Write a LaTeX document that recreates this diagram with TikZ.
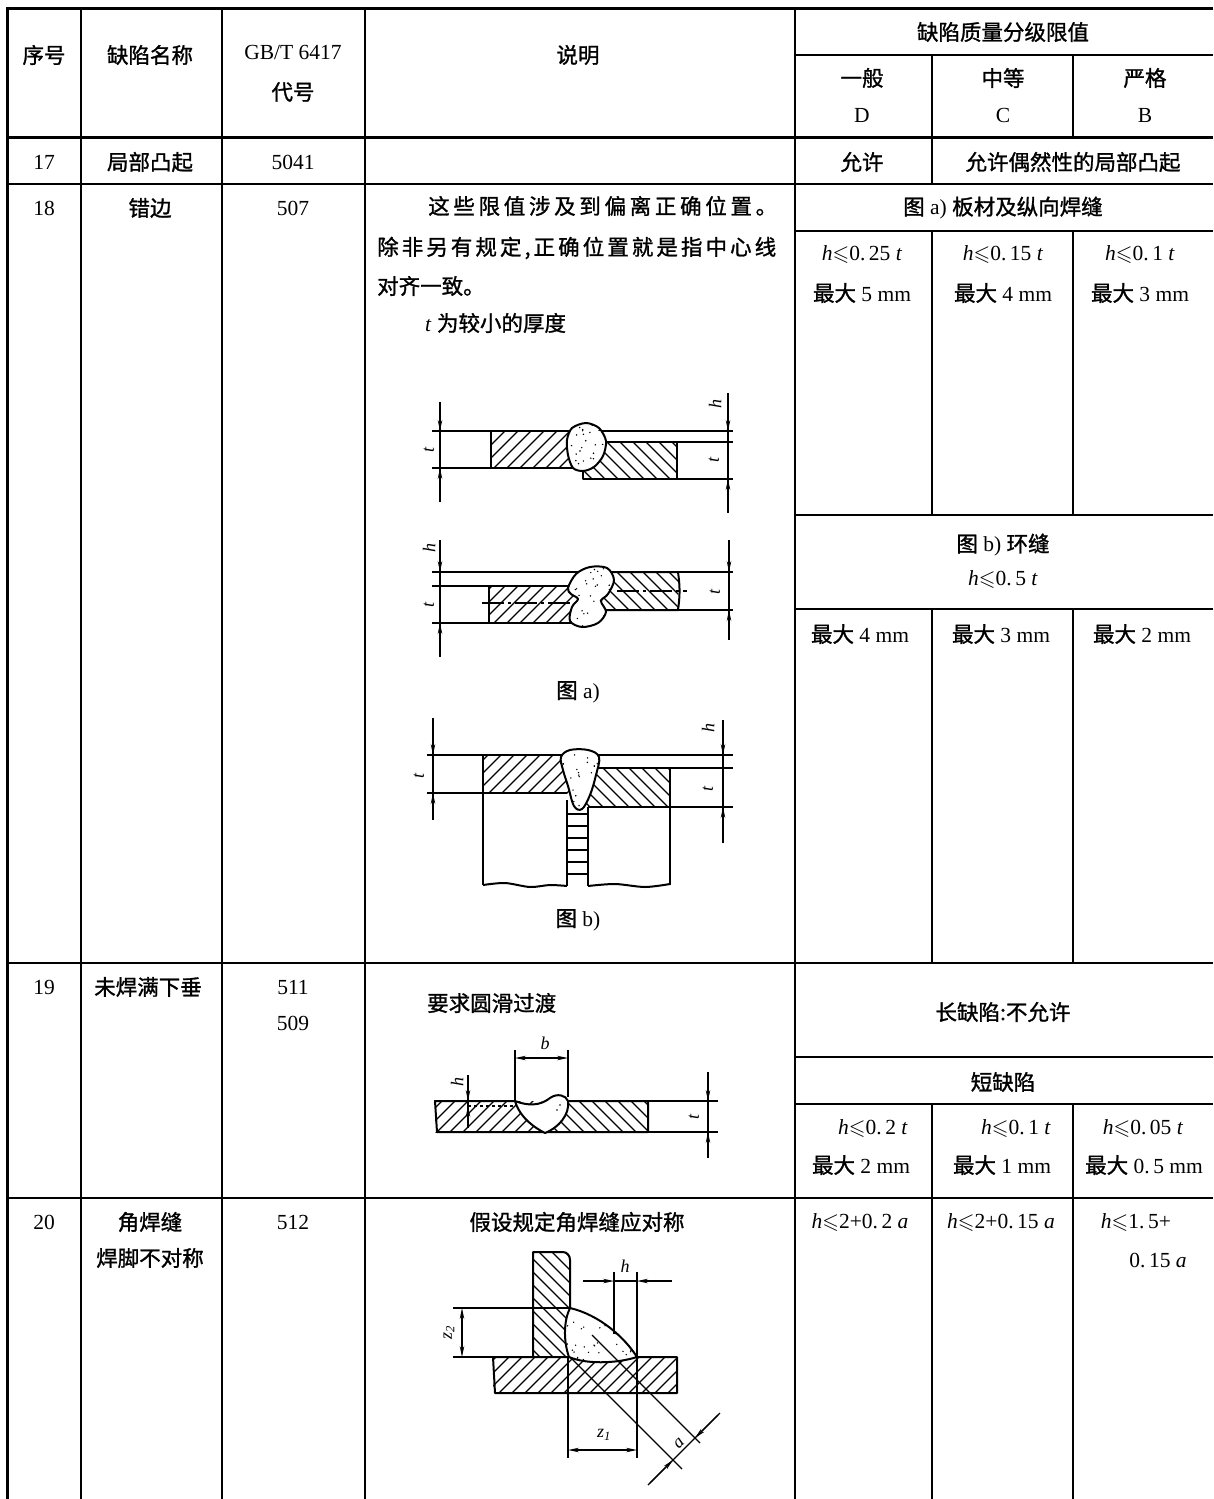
\documentclass[tikz,border=0pt]{standalone}
\usepackage{amssymb}
\usepackage{fontspec}
\setmainfont{Liberation Serif}
\newfontfamily\cjk[RawFeature={embolden=1.2}]{Noto Sans CJK SC}
\usetikzlibrary{arrows.meta}
\newcommand{\zh}[1]{{\cjk #1}}
\newcommand{\hv}{\textit{h}}
\newcommand{\tv}{\textit{t}}
\newcommand{\av}{\textit{a}}
\newcommand{\lsym}{$\leqslant$}
\newcommand{\stipple}[5]{\foreach \i in {1,...,#5}{\pgfmathsetmacro\rx{#1+#3*rnd}\pgfmathsetmacro\ry{#2+#4*rnd}\fill (\rx,\ry) circle (0.8pt);}}
\begin{document}
\begin{tikzpicture}[x=1pt,y=-1pt,
 txt/.style={font=\fontsize{21.5}{26}\selectfont, inner sep=0pt},
 grid/.style={line width=1.8pt},
 frame/.style={line width=3pt},
 plate/.style={line width=2pt, line join=round},
 hatch/.style={line width=1.2pt},
 thin/.style={line width=1.1pt},
 arr/.style={-{Stealth[length=11pt,width=4.5pt]}, line width=1.1pt},
 dbl/.style={{Stealth[length=11pt,width=4.5pt]}-{Stealth[length=11pt,width=4.5pt]}, line width=1.1pt},
 lab/.style={font=\fontsize{18}{20}\selectfont\itshape, inner sep=0pt},
]
\pgfmathsetseed{7}
\useasboundingbox (0,0) rectangle (1213,1499);
\fill[white] (0,0) rectangle (1213,1499);
% ---------- table grid ----------
\draw[frame] (7,8) -- (1213,8);
\draw[frame] (7,137) -- (1213,137);
\draw[frame] (7,6.5) -- (7,1499);
\draw[grid] (795,55) -- (1213,55);
\draw[grid] (7,184) -- (1213,184);
\draw[grid] (795,231) -- (1213,231);
\draw[grid] (795,515) -- (1213,515);
\draw[grid] (795,609) -- (1213,609);
\draw[grid] (7,963) -- (1213,963);
\draw[grid] (795,1057) -- (1213,1057);
\draw[grid] (795,1104) -- (1213,1104);
\draw[grid] (7,1198) -- (1213,1198);
\foreach \x in {81,222,365,795} \draw[grid] (\x,8) -- (\x,1499);
\draw[grid] (932,55) -- (932,184);
\draw[grid] (932,231) -- (932,515);
\draw[grid] (932,609) -- (932,963);
\draw[grid] (932,1104) -- (932,1499);
\draw[grid] (1073,55) -- (1073,137);
\draw[grid] (1073,231) -- (1073,515);
\draw[grid] (1073,609) -- (1073,963);
\draw[grid] (1073,1104) -- (1073,1499);
% ---------- header ----------
\node[txt] (h1) at (44,55) {\zh{序号}};
\node[txt] (h2) at (150,55) {\zh{缺陷名称}};
\node[txt] (h3) at (293,52) {GB/T 6417};
\node[txt] (h3b) at (293,92) {\zh{代号}};
\node[txt] (h4) at (578,55) {\zh{说明}};
\node[txt] (h5) at (1003,32) {\zh{缺陷质量分级限值}};
\node[txt] (h6) at (862,78) {\zh{一般}};
\node[txt] (h6b) at (862,115) {D};
\node[txt] (h7) at (1003,78) {\zh{中等}};
\node[txt] (h7b) at (1003,115) {C};
\node[txt] (h8) at (1145,78) {\zh{严格}};
\node[txt] (h8b) at (1145,115) {B};
% ---------- row 17 ----------
\node[txt] (r17a) at (44,162) {17};
\node[txt] (r17b) at (150,162) {\zh{局部凸起}};
\node[txt] (r17c) at (293,162) {5041};
\node[txt] (r17d) at (862,162) {\zh{允许}};
\node[txt] (r17e) at (1073,162) {\zh{允许偶然性的局部凸起}};
% ---------- row 18 ----------
\node[txt] (r18a) at (44,208) {18};
\node[txt] (r18b) at (150,208) {\zh{错边}};
\node[txt] (r18c) at (293,208) {507};
\node[txt,anchor=west] (d1) at (428,206) {\makebox[349pt][s]{\cjk 这\hfill 些\hfill 限\hfill 值\hfill 涉\hfill 及\hfill 到\hfill 偏\hfill 离\hfill 正\hfill 确\hfill 位\hfill 置\hfill 。}};
\node[txt,anchor=west] (d2) at (377,248) {\makebox[399pt][s]{\cjk 除\hfill 非\hfill 另\hfill 有\hfill 规\hfill 定\hfill ,\hfill 正\hfill 确\hfill 位\hfill 置\hfill 就\hfill 是\hfill 指\hfill 中\hfill 心\hfill 线}};
\node[txt,anchor=west] (d3) at (377,286) {\zh{对齐一致。}};
\node[txt,anchor=west] (d4) at (425,323) {\tv\ \zh{为较小的厚度}};
\node[txt] (fa) at (1003,208) {\zh{图} a) \zh{板材及纵向焊缝}};
\node[txt] (l1) at (862,255) {\hv\lsym0.\,25 \tv};
\node[txt] (l2) at (862,293) {\zh{最大} 5 mm};
\node[txt] (l3) at (1003,255) {\hv\lsym0.\,15 \tv};
\node[txt] (l4) at (1003,293) {\zh{最大} 4 mm};
\node[txt] (l5) at (1140,255) {\hv\lsym0.\,1 \tv};
\node[txt] (l6) at (1140,293) {\zh{最大} 3 mm};
\node[txt] (fb) at (1003,545) {\zh{图} b) \zh{环缝}};
\node[txt] (fb2) at (1003,580) {\hv\lsym0.\,5 \tv};
\node[txt] (l7) at (860,634) {\zh{最大} 4 mm};
\node[txt] (l8) at (1001,634) {\zh{最大} 3 mm};
\node[txt] (l9) at (1142,634) {\zh{最大} 2 mm};
\node[txt] (capa) at (578,692) {\zh{图} a)};
\node[txt] (capb) at (578,920) {\zh{图} b)};
% ---------- row 19 ----------
\node[txt] (r19a) at (44,987) {19};
\node[txt] (r19b) at (148,987) {\zh{未焊满下垂}};
\node[txt] (r19c) at (293,987) {511};
\node[txt] (r19d) at (293,1023) {509};
\node[txt,anchor=west] (r19e) at (427,1003) {\zh{要求圆滑过渡}};
\node[txt] (r19f) at (1003,1012) {\zh{长缺陷:不允许}};
\node[txt] (r19g) at (1003,1082) {\zh{短缺陷}};
\node[txt] (m1) at (873,1128) {\hv\lsym0.\,2 \tv};
\node[txt] (m2) at (861,1165) {\zh{最大} 2 mm};
\node[txt] (m3) at (1016,1128) {\hv\lsym0.\,1 \tv};
\node[txt] (m4) at (1002,1165) {\zh{最大} 1 mm};
\node[txt] (m5) at (1143,1128) {\hv\lsym0.\,05 \tv};
\node[txt] (m6) at (1144,1165) {\zh{最大} 0.\,5 mm};
% ---------- row 20 ----------
\node[txt] (r20a) at (44,1222) {20};
\node[txt] (r20b) at (150,1222) {\zh{角焊缝}};
\node[txt] (r20c) at (150,1258) {\zh{焊脚不对称}};
\node[txt] (r20d) at (293,1222) {512};
\node[txt] (r20e) at (577,1222) {\zh{假设规定角焊缝应对称}};
\node[txt] (n1) at (860,1222) {\hv\lsym2+0.\,2 \av};
\node[txt] (n2) at (1001,1222) {\hv\lsym2+0.\,15 \av};
\node[txt] (n3) at (1136,1222) {\hv\lsym1.\,5+};
\node[txt] (n4) at (1158,1260) {0.\,15 \av};

% ================= drawing a1 =================
\draw[thin] (432,431) -- (733,431);
\draw[thin] (432,468) -- (491,468);
\draw[thin] (677,442) -- (733,442);
\draw[thin] (677,479) -- (733,479);
\begin{scope}\clip (491,431) rectangle (580,468);
\foreach \c in {910,923,...,1060} \draw[hatch] (\c-425,425) -- (\c-475,475);
\end{scope}
\draw[plate] (580,431) -- (491,431) -- (491,468) -- (580,468);
\begin{scope}\clip (583,442) rectangle (677,479);
\foreach \c in {100,113,...,240} \draw[hatch] (\c+436,436) -- (\c+485,485);
\end{scope}
\draw[plate] (583,442) -- (677,442) -- (677,479) -- (583,479) -- cycle;
\def\wA{plot[smooth cycle] coordinates {(572,428) (586,423) (599,428) (606,441) (603,456) (594,467) (583,471) (573,468) (568,455) (567,440)}}
\fill[white] \wA;
\begin{scope}\clip \wA; \stipple{565}{422}{42}{50}{35}\end{scope}
\draw[plate] \wA;
\draw[thin] (440,402) -- (440,502);
\draw[arr] (440,405) -- (440,431);
\draw[arr] (440,499) -- (440,468);
\draw[thin] (728,393) -- (728,513);
\draw[arr] (728,400) -- (728,431);
\draw[arr] (728,508) -- (728,479);
\fill (728,442) circle (1.6pt);
\node[lab,rotate=90] (ta1) at (429,450) {t};
\node[lab,rotate=90] (ta2) at (715,404) {h};
\node[lab,rotate=90] (ta3) at (714,460) {t};

% ================= drawing a2 =================
\draw[thin] (432,572) -- (733,572);
\draw[thin] (432,586) -- (489,586);
\draw[thin] (432,623) -- (489,623);
\draw[thin] (678,610) -- (733,610);
\begin{scope}\clip (489,586) rectangle (580,623);
\foreach \c in {1065,1078,...,1215} \draw[hatch] (\c-580,580) -- (\c-630,630);
\end{scope}
\draw[plate] (580,586) -- (489,586) -- (489,623) -- (580,623);
\begin{scope}\clip (600,572) rectangle (678,610);
\foreach \c in {-20,-7,...,115} \draw[hatch] (\c+565,565) -- (\c+615,615);
\end{scope}
\draw[plate] (600,572) -- (678,572) to[bend left=8] (678,610) -- (600,610);
\draw[thin, dash pattern=on 22pt off 4pt on 3pt off 4pt] (482,603) -- (573,603);
\draw[thin, dash pattern=on 22pt off 4pt on 3pt off 4pt] (617,591) -- (687,591);
\def\wB{plot[smooth cycle, tension=0.55] coordinates {(568,588) (576,574) (590,567) (607,568) (614,580) (608,594) (601,601) (606,612) (598,623) (582,627) (570,621) (572,607) (578,599) (571,594)}}
\fill[white] \wB;
\begin{scope}\clip \wB; \stipple{565}{565}{50}{64}{45}\end{scope}
\draw[plate] \wB;
\draw[thin] (440,540) -- (440,657);
\draw[arr] (440,545) -- (440,572);
\draw[arr] (440,652) -- (440,623);
\fill (440,586) circle (1.6pt);
\node[lab,rotate=90] (tb1) at (429,548) {h};
\node[lab,rotate=90] (tb2) at (429,605) {t};
\draw[thin] (729,540) -- (729,640);
\draw[arr] (729,545) -- (729,572);
\draw[arr] (729,636) -- (729,610);
\node[lab,rotate=90] (tb3) at (715,592) {t};

% ================= drawing b =================
\draw[thin] (427,755) -- (733,755);
\draw[thin] (670,768) -- (733,768);
\draw[thin] (427,793) -- (483,793);
\draw[thin] (670,807) -- (733,807);
\begin{scope}\clip (483,755) rectangle (575,793);
\foreach \c in {1230,1243,...,1375} \draw[hatch] (\c-750,750) -- (\c-800,800);
\end{scope}
\draw[plate] (575,755) -- (483,755) -- (483,793) -- (567,793);
\begin{scope}\clip (585,768) rectangle (670,807);
\foreach \c in {-230,-217,...,-90} \draw[hatch] (\c+760,760) -- (\c+815,815);
\end{scope}
\draw[plate] (585,768) -- (670,768) -- (670,807) -- (588,807);
\draw[plate] (483,793) -- (483,885);
\draw[plate] (567,800) -- (567,886);
\draw[plate] (588,807) -- (588,886);
\draw[plate] (670,807) -- (670,885);
\draw[plate] plot[smooth] coordinates {(483,885) (505,883) (530,887) (550,885) (567,886)};
\draw[plate] plot[smooth] coordinates {(588,886) (615,884) (645,887) (670,884)};
\foreach \y in {814,826,838,850,862,874} \draw[thin] (567,\y) -- (588,\y);
\def\wC{plot[smooth cycle, tension=0.6] coordinates {(561,757) (570,750) (588,750) (599,757) (596,775) (590,795) (582,809) (574,806) (568,786) (563,770)}}
\fill[white] \wC;
\begin{scope}\clip \wC; \stipple{560}{748}{42}{62}{40}\end{scope}
\draw[plate] \wC;
\draw[thin] (433,718) -- (433,820);
\draw[arr] (433,722) -- (433,755);
\draw[arr] (433,818) -- (433,793);
\node[lab,rotate=90] (tc1) at (419,776) {t};
\draw[thin] (723,720) -- (723,843);
\draw[arr] (723,725) -- (723,755);
\draw[arr] (723,838) -- (723,807);
\fill (723,768) circle (1.6pt);
\node[lab,rotate=90] (tc2) at (708,728) {h};
\node[lab,rotate=90] (tc3) at (708,789) {t};

% ================= drawing row 19 =================
\begin{scope}\clip (435,1101) rectangle (541,1132);
\foreach \c in {1530,1543,...,1680} \draw[hatch] (\c-1095,1095) -- (\c-1140,1140);
\end{scope}
\begin{scope}\clip (541,1101) rectangle (648,1132);
\foreach \c in {-600,-587,...,-445} \draw[hatch] (\c+1095,1095) -- (\c+1140,1140);
\end{scope}
\draw[plate] (515,1101) -- (435,1101) -- (437,1132) -- (648,1132) -- (648,1101) -- (568,1101);
\def\wD{(515,1101) .. controls (528,1106) and (540,1106) .. (550,1098) .. controls (557,1093) and (566,1095) .. (568,1101) .. controls (570,1115) and (558,1128) .. (545,1133) .. controls (535,1128) and (520,1118) .. (515,1101) -- cycle}
\fill[white] \wD;
\draw[plate] \wD;
\fill (560,1105) circle (0.9pt); \fill (557,1110) circle (0.9pt);
\draw[thin, dashed] (468,1106) -- (515,1106);
\draw[thin] (468,1075) -- (468,1128);
\draw[arr] (468,1079) -- (468,1101);
\draw[arr] (468,1128) -- (468,1106);
\node[lab,rotate=90] (td1) at (457,1082) {h};
\draw[thin] (515,1050) -- (515,1101);
\draw[thin] (568,1050) -- (568,1097);
\draw[dbl] (515,1058) -- (568,1058);
\node[lab] (td2) at (545,1043) {b};
\draw[thin] (648,1101) -- (718,1101);
\draw[thin] (648,1132) -- (718,1132);
\draw[thin] (708,1072) -- (708,1158);
\draw[arr] (708,1077) -- (708,1101);
\draw[arr] (708,1156) -- (708,1132);
\node[lab,rotate=90] (td3) at (694,1117) {t};

% ================= drawing row 20 =================
\begin{scope}\clip (533,1252) rectangle (570,1357);
\foreach \c in {-830,-817,...,-675} \draw[hatch] (\c+1245,1245) -- (\c+1365,1365);
\end{scope}
\draw[plate] (533,1357) -- (533,1252) -- (563,1252) to[out=0,in=90] (570,1260) -- (570,1357);
\begin{scope}\clip (493,1357) rectangle (677,1393);
\foreach \c in {1840,1853,...,2080} \draw[hatch] (\c-1350,1350) -- (\c-1400,1400);
\end{scope}
\draw[plate] (493,1357) -- (677,1357) -- (677,1393) -- (495,1393) -- cycle;
\def\wE{(570,1308) .. controls (600,1315) and (625,1338) .. (637,1357) .. controls (615,1364) and (585,1364) .. (569,1357) .. controls (563,1340) and (564,1320) .. (570,1308) -- cycle}
\fill[white] \wE;
\begin{scope}\clip \wE; \stipple{563}{1306}{76}{58}{45}\end{scope}
\draw[plate] \wE;
\draw[thin] (453,1308) -- (570,1308);
\draw[thin] (453,1357) -- (493,1357);
\draw[dbl] (462,1308) -- (462,1357);
\node[lab,rotate=90] (te1) at (449,1333) {z\textsubscript{2}};
\draw[thin] (614,1272) -- (614,1334);
\draw[thin] (637,1272) -- (637,1357);
\draw[thin] (614,1281) -- (637,1281);
\draw[arr] (583,1281) -- (614,1281);
\draw[arr] (672,1281) -- (637,1281);
\node[lab] (te2) at (625,1266) {h};
\draw[thin] (568,1357) -- (568,1458);
\draw[thin] (637,1357) -- (637,1458);
\draw[dbl] (568,1450) -- (637,1450);
\node[lab] (te3) at (604,1435) {z\textsubscript{1}};
\draw[thin] (570,1357) -- (682,1469);
\draw[thin] (592,1335) -- (700,1443);
\draw[thin] (648,1485) -- (720,1413);
\draw[arr] (650,1483) -- (673,1460);
\draw[arr] (718,1415) -- (695,1438);
\node[lab,rotate=45] (te4) at (679,1443) {a};
\end{tikzpicture}
\end{document}
